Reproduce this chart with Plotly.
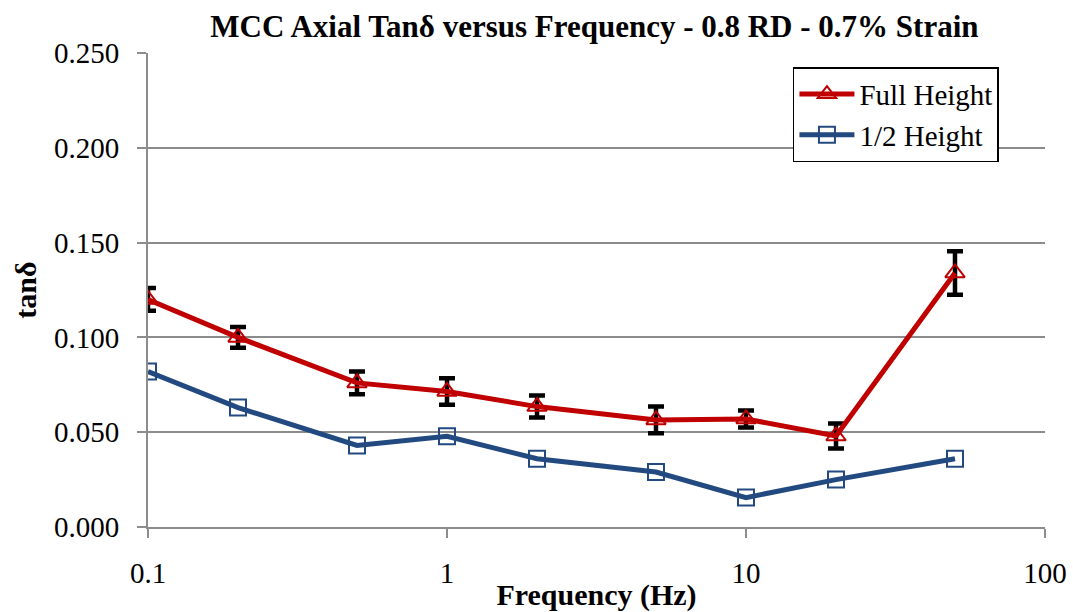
import plotly.graph_objects as go

freq = [0.1, 0.2, 0.5, 1, 2, 5, 10, 20, 50]
full_height = [0.120, 0.100, 0.076, 0.0715, 0.0635, 0.0565, 0.057, 0.048, 0.134]
full_err = [0.006, 0.0055, 0.006, 0.007, 0.0058, 0.007, 0.0045, 0.0066, 0.0115]
half_height = [0.082, 0.063, 0.043, 0.0478, 0.036, 0.029, 0.0155, 0.025, 0.036]
x_ticks = [0.1, 1, 10, 100]
x_tick_text = ["0.1", "1", "10", "100"]
y_ticks = [0.0, 0.05, 0.10, 0.15, 0.20, 0.25]

FONT = "Liberation Serif"

fig = go.Figure()
fig.add_trace(go.Scatter(
    x=freq, y=full_height, name="Full Height", mode="lines+markers",
    line=dict(color="#C00000", width=5),
    marker=dict(symbol="triangle-up-open", size=17, color="#C00000", line=dict(width=2)),
    error_y=dict(type="data", array=full_err, visible=True, color="black", thickness=4.5, width=8),
))
fig.add_trace(go.Scatter(
    x=freq, y=half_height, name="1/2 Height", mode="lines+markers",
    line=dict(color="#234A80", width=5),
    marker=dict(symbol="square-open", size=16, color="#234A80", line=dict(width=2)),
))

fig.update_layout(
    width=1073, height=612,
    margin=dict(l=148, r=28, t=53, b=85),
    paper_bgcolor="white", plot_bgcolor="white",
    font=dict(family=FONT, color="black", size=29),
    title=dict(text="<b>MCC Axial Tanδ versus Frequency - 0.8 RD - 0.7% Strain</b>",
               x=0.554, xanchor="center", y=0.957, yanchor="middle",
               font=dict(family=FONT, size=31)),
    legend=dict(x=0.719, y=0.97, xanchor="left", yanchor="top",
                bordercolor="black", borderwidth=1.5, bgcolor="white",
                font=dict(family=FONT, size=29), tracegroupgap=0, itemwidth=55),
    showlegend=True,
)
fig.update_xaxes(
    type="log", range=[-1, 2], tickvals=x_ticks, ticktext=x_tick_text,
    showgrid=False, showline=True, linecolor="#8C8C8C", linewidth=2,
    ticks="outside", ticklen=9, tickcolor="#8C8C8C", tickwidth=2,
    tickfont=dict(size=29), ticklabelstandoff=10, automargin=False,
    title=dict(text="<b>Frequency (Hz)</b>", font=dict(size=30), standoff=0),
)
fig.update_yaxes(
    range=[0, 0.25], tickvals=y_ticks, tickformat=".3f",
    showgrid=True, gridcolor="#8C8C8C", gridwidth=2, zeroline=False,
    showline=True, linecolor="#8C8C8C", linewidth=2,
    ticks="outside", ticklen=9, tickcolor="#8C8C8C", tickwidth=2,
    tickfont=dict(size=29), ticklabelstandoff=12, automargin=False,
    title=dict(text="<b>tanδ</b>", font=dict(size=30), standoff=8),
)

fig.write_html("out.html", config={"displayModeBar": False},
               post_script="document.body.style.margin='0';document.body.style.padding='0';")
